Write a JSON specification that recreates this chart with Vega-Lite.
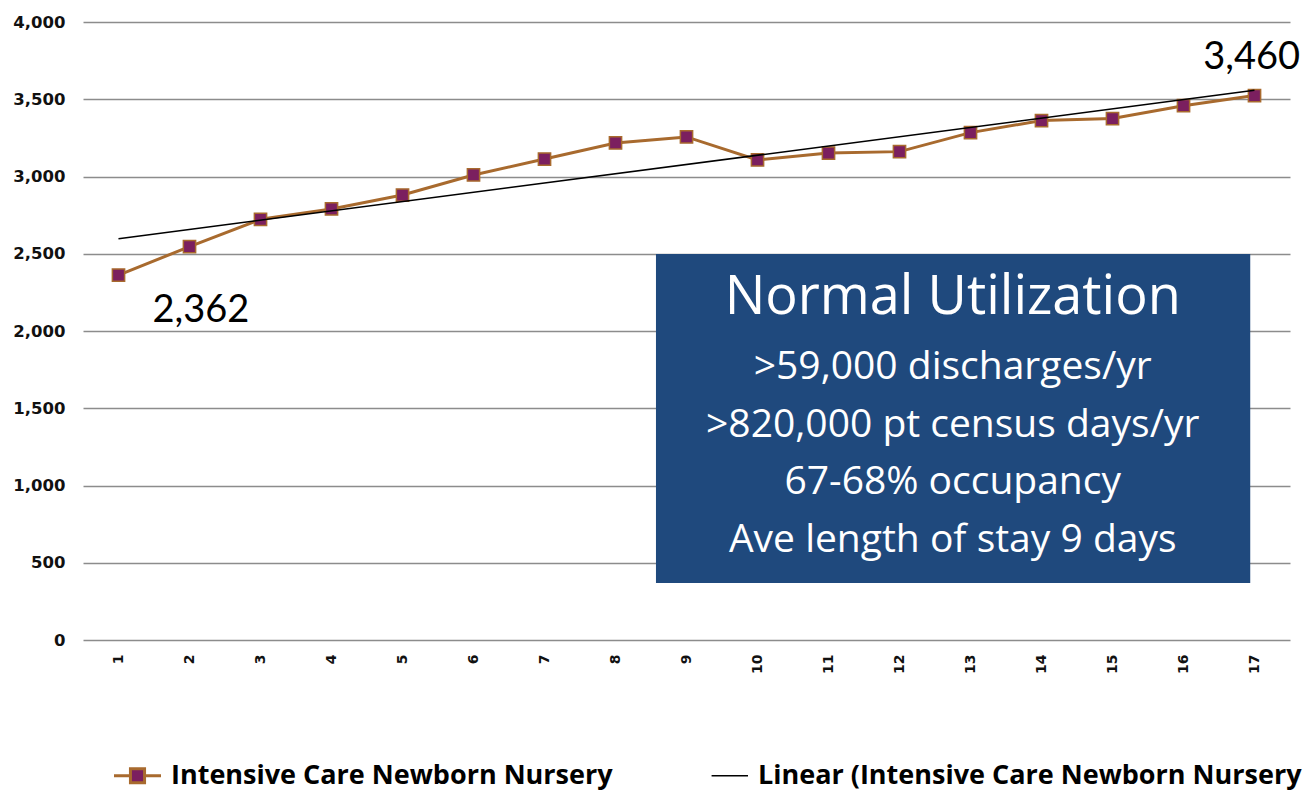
{
  "$schema": "https://vega.github.io/schema/vega-lite/v6.json",
  "autosize": {"type": "none"},
  "width": 1207,
  "height": 618,
  "padding": {"left": 83, "top": 22, "right": 16, "bottom": 152},
  "background": "white",
  "config": {
    "view": {"stroke": null},
    "font": "Lato"
  },
  "datasets": {
    "series": [
      {"period": 1, "discharges": 2362},
      {"period": 2, "discharges": 2546},
      {"period": 3, "discharges": 2723},
      {"period": 4, "discharges": 2790},
      {"period": 5, "discharges": 2880},
      {"period": 6, "discharges": 3010},
      {"period": 7, "discharges": 3113},
      {"period": 8, "discharges": 3217},
      {"period": 9, "discharges": 3256},
      {"period": 10, "discharges": 3107},
      {"period": 11, "discharges": 3152},
      {"period": 12, "discharges": 3161},
      {"period": 13, "discharges": 3284},
      {"period": 14, "discharges": 3362},
      {"period": 15, "discharges": 3375},
      {"period": 16, "discharges": 3458},
      {"period": 17, "discharges": 3524}
    ],
    "box": [{"x1": 8.57, "x2": 16.94, "y1": 369, "y2": 2499}],
    "title": [{"x": 12.75, "y": 2214, "text": "Normal Utilization"}],
    "body": [{"x": 12.75, "y": 1768, "text": [">59,000 discharges/yr", ">820,000 pt census days/yr", "67-68% occupancy", "Ave length of stay 9 days"]}],
    "callouts": [
      {"x": 2.16, "y": 2130, "text": "2,362"},
      {"x": 16.96, "y": 3769, "text": "3,460"}
    ]
  },
  "layer": [
    {
      "data": {"name": "series"},
      "mark": {"type": "line", "strokeWidth": 3, "clip": false},
      "encoding": {
        "x": {
          "field": "period", "type": "quantitative",
          "scale": {"domain": [0.5, 17.5], "nice": false, "zero": false},
          "axis": {
            "values": [1,2,3,4,5,6,7,8,9,10,11,12,13,14,15,16,17],
            "title": null, "grid": false, "domain": false, "ticks": false,
            "labelAngle": 270, "labelPadding": 14,
            "labelFont": "DejaVu Sans", "labelFontWeight": "bold", "labelFontSize": 14,
            "labelColor": "#111111", "format": "d"
          }
        },
        "y": {
          "field": "discharges", "type": "quantitative",
          "scale": {"domain": [0, 4000], "nice": false},
          "axis": {
            "values": [0, 500, 1000, 1500, 2000, 2500, 3000, 3500, 4000],
            "title": null, "domain": false, "ticks": false,
            "labelPadding": 18, "format": ",d",
            "labelFont": "DejaVu Sans", "labelFontWeight": "bold", "labelFontSize": 16.5,
            "labelColor": "#111111",
            "gridColor": "#8c8c8c", "gridWidth": 1.5
          }
        },
        "stroke": {
          "datum": "Intensive Care Newborn Nursery",
          "type": "nominal",
          "scale": {
            "domain": ["Intensive Care Newborn Nursery", "Linear (Intensive Care Newborn Nursery"],
            "range": ["#A86A2E", "#000000"]
          },
          "legend": {
            "title": null,
            "orient": "none",
            "legendX": 41,
            "legendY": 740,
            "direction": "horizontal",
            "columns": 2,
            "columnPadding": 95,
            "labelFont": "Open Sans",
            "labelFontWeight": "bold",
            "labelFontSize": 27,
            "labelColor": "#000000",
            "labelLimit": 0,
            "labelOffset": 20,
            "symbolSize": 2209,
            "symbolStrokeWidth": 2.5,
            "encode": {
              "symbols": {
                "update": {
                  "shape": {"signal": "datum.value === 'Intensive Care Newborn Nursery' ? 'M-1,0H-0.3M0.3,0H1M-0.3,-0.3H0.3V0.3H-0.3Z' : 'M-0.55,0H1'"},
                  "fill": {"signal": "datum.value === 'Intensive Care Newborn Nursery' ? '#7B1F5F' : 'transparent'"},
                  "strokeWidth": {"signal": "datum.value === 'Intensive Care Newborn Nursery' ? 3 : 1.5"}
                }
              }
            }
          }
        }
      }
    },
    {
      "data": {"name": "series"},
      "mark": {"type": "square", "size": 150, "fill": "#7B1F5F", "stroke": "#A86A2E", "strokeWidth": 1.5, "opacity": 1},
      "encoding": {
        "x": {"field": "period", "type": "quantitative"},
        "y": {"field": "discharges", "type": "quantitative"}
      }
    },
    {
      "data": {"name": "series"},
      "transform": [{"regression": "discharges", "on": "period", "extent": [1, 17]}],
      "mark": {"type": "line", "strokeWidth": 1.5},
      "encoding": {
        "x": {"field": "period", "type": "quantitative"},
        "y": {"field": "discharges", "type": "quantitative"},
        "stroke": {"datum": "Linear (Intensive Care Newborn Nursery", "type": "nominal"}
      }
    },
    {
      "data": {"name": "box"},
      "mark": {"type": "rect", "fill": "#1F497D"},
      "encoding": {
        "x": {"field": "x1", "type": "quantitative"},
        "x2": {"field": "x2"},
        "y": {"field": "y1", "type": "quantitative"},
        "y2": {"field": "y2"}
      }
    },
    {
      "data": {"name": "title"},
      "mark": {"type": "text", "font": "Open Sans", "fontSize": 54, "color": "white", "align": "center", "baseline": "middle"},
      "encoding": {
        "x": {"field": "x", "type": "quantitative"},
        "y": {"field": "y", "type": "quantitative"},
        "text": {"field": "text"}
      }
    },
    {
      "data": {"name": "body"},
      "mark": {"type": "text", "font": "Open Sans", "fontSize": 39, "lineHeight": 57.7, "color": "white", "align": "center", "baseline": "middle"},
      "encoding": {
        "x": {"field": "x", "type": "quantitative"},
        "y": {"field": "y", "type": "quantitative"},
        "text": {"field": "text"}
      }
    },
    {
      "data": {"name": "callouts"},
      "mark": {"type": "text", "font": "Lato", "fontSize": 38, "color": "black", "align": "center", "baseline": "middle"},
      "encoding": {
        "x": {"field": "x", "type": "quantitative"},
        "y": {"field": "y", "type": "quantitative"},
        "text": {"field": "text"}
      }
    }
  ]
}
